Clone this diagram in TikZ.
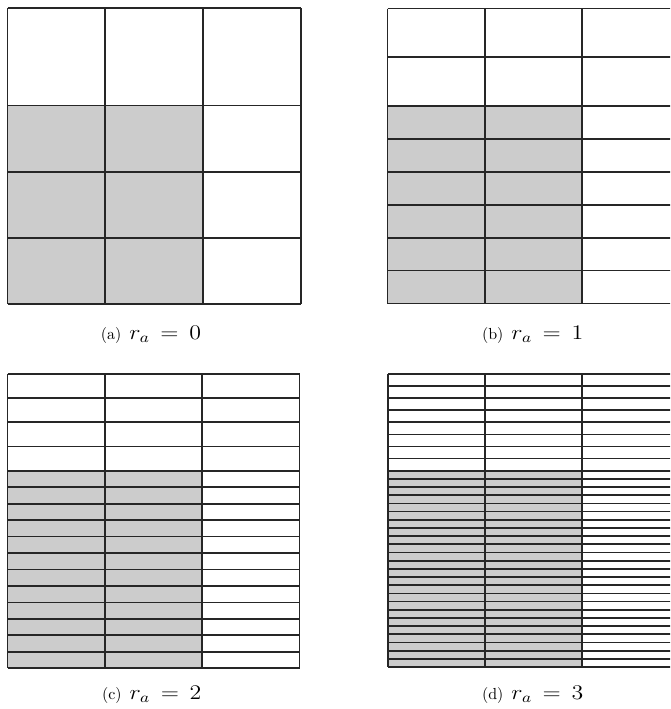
\documentclass[tikz,border=0pt]{standalone}
\usepackage{fix-cm}
\usepackage{graphicx}
\begin{document}
\begin{tikzpicture}[x=0.625pt,y=-0.625pt,
  gridline/.style={line width=1.1pt, draw=black!85},
  shadecell/.style={fill=black!20},
  captext/.style={anchor=base west, inner sep=0pt, font=\fontsize{10}{12}\selectfont}]
\useasboundingbox (0,0) rectangle (670,709);
\clip (0,0) rectangle (670,709);
\newcommand\gridpanel[7]{%
  \fill[shadecell] (#1,#3) rectangle ({#1+#7*2/3},#4);
  \foreach \i in {0,...,#5}{\pgfmathsetmacro\yy{#2+(#3-#2)*\i/#5}
    \draw[gridline] (#1,\yy) -- ({#1+#7},\yy);}
  \foreach \i in {1,...,#6}{\pgfmathsetmacro\yy{#3+(#4-#3)*\i/#6}
    \draw[gridline] (#1,\yy) -- ({#1+#7},\yy);}
  \foreach \k in {0,...,3}{\draw[gridline] ({#1+#7*\k/3},#2) -- ({#1+#7*\k/3},#4);}
}
\newcommand\capmath[1]{\scalebox{1.15}[1]{\fontsize{13}{15}\selectfont$r_a \mathrel{\,=\,} #1$}}
% panel (a)
\gridpanel{7.5}{8}{105.5}{304}{1}{3}{293.5}
% panel (b)
\gridpanel{387.5}{8.5}{106}{303.5}{2}{6}{292}
% panel (c)
\gridpanel{7.5}{374}{470.7}{668.3}{4}{12}{292}
% panel (d)
\gridpanel{388}{374}{470.7}{667}{8}{24}{291}
% captions
\node[captext] (capa) at (100.5,339.5) {(a)\hspace{5pt}\capmath{0}};
\node[captext] (capb) at (481.8,339.5) {(b)\hspace{5pt}\capmath{1}};
\node[captext] (capc) at (101.8,699) {(c)\hspace{5pt}\capmath{2}};
\node[captext] (capd) at (481.8,699) {(d)\hspace{5pt}\capmath{3}};
\end{tikzpicture}
\end{document}
